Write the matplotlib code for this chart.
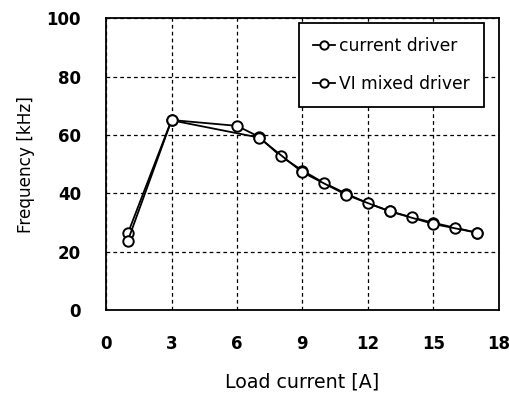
import matplotlib
matplotlib.use("Agg")
import matplotlib.pyplot as plt

cur_x = [1, 3, 6, 7, 8, 9, 10, 11, 12, 13, 14, 15, 16, 17]
cur_y = [26.3, 65.1, 63.1, 59.4, 52.7, 47.8, 43.5, 39.9, 36.6, 33.9, 31.8, 29.9, 28.2, 26.5]
vi_x = [1, 3, 7, 9, 11, 13, 15, 17]
vi_y = [23.8, 65.0, 59.1, 47.2, 39.5, 33.8, 29.5, 26.5]

xticks = [0, 3, 6, 9, 12, 15, 18]
yticks = [0, 20, 40, 60, 80, 100]

fig = plt.figure(figsize=(5.10, 3.94), dpi=100)
ax = fig.add_axes([0.208, 0.213, 0.770, 0.741])

mk = dict(marker='o', markersize=7.5, markerfacecolor='white', markeredgecolor='black',
          markeredgewidth=1.4, color='black')
ax.plot(cur_x, cur_y, lw=1.3, label='current driver', **mk)
ax.plot(vi_x, vi_y, lw=1.3, label='VI mixed driver', **mk)

ax.set_xlim(0, 18)
ax.set_ylim(0, 100)
ax.set_xticks(xticks)
ax.set_yticks(yticks)
ax.tick_params(length=0, labelsize=12, pad=18)
for t in ax.get_xticklabels() + ax.get_yticklabels():
    t.set_fontweight('bold')
ax.grid(True, color='black', linestyle=(0, (3, 2.5)), linewidth=0.9)
for s in ax.spines.values():
    s.set_linewidth(1.3)
    s.set_color('black')

ax.set_xlabel('Load current [A]', fontsize=13.7, labelpad=14)
ax.set_ylabel('Frequency [kHz]', fontsize=12.2, labelpad=8)

leg = ax.legend(loc='upper right', bbox_to_anchor=(0.962, 0.983), borderaxespad=0,
                fontsize=12.3, handlelength=1.3, handletextpad=0.25, frameon=True,
                fancybox=False, edgecolor='black', framealpha=1, borderpad=0.8,
                labelspacing=1.2, markerscale=0.8)
leg.get_frame().set_linewidth(1.3)

fig.savefig('out.png', dpi=100)
